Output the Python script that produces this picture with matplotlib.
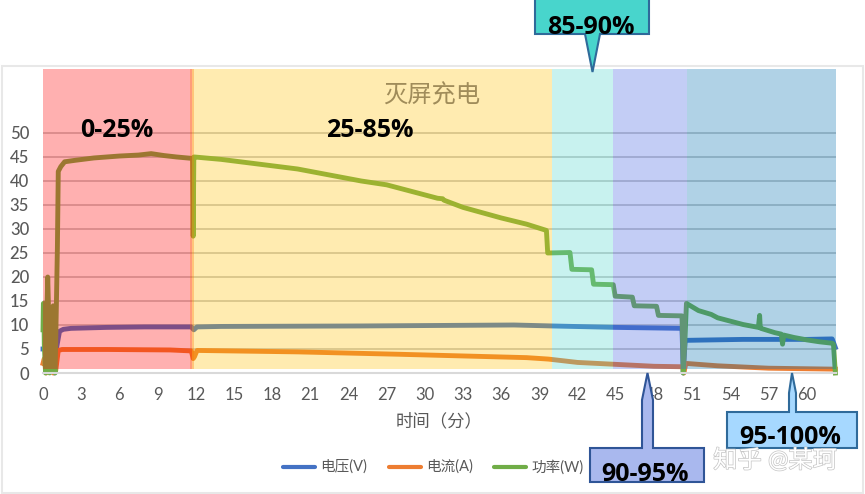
import matplotlib
matplotlib.use("Agg")
import matplotlib.pyplot as plt
from matplotlib.patches import Polygon, Rectangle
import matplotlib.patheffects as pe

plt.rcParams['font.family'] = ['Lato', 'Noto Sans CJK SC', 'DejaVu Sans']

time_power = [0, .03, .07, .1, .2, .27, .37, .45, .52, .6, .7, .8, .88, .95, 1.05, 1.13, 1.2, 1.4, 1.7, 2.5, 4, 6, 7.5, 8.5, 9.5, 10.5, 11.75,
              11.8, 11.85, 11.9, 14, 17, 20, 23, 25, 27, 29, 31, 31.4, 31.5, 33, 36, 38, 39.55, 39.65, 41.4, 41.55, 43.1, 43.25, 44.8, 44.95,
              46.3, 46.45, 48.2, 48.35, 50.2, 50.3, 50.4, 50.55, 51.5, 52.5, 53, 54, 55, 56.2, 56.3, 56.35, 56.4, 57.5, 58, 58.1, 58.2, 59, 60, 61, 62, 62.1, 62.25]
power = [9, 14.5, 14, 6, 0, 8, 20, 12, 0, 5, 10, 14, 2, 0, 14, 26, 42, 43, 44, 44.3, 44.8, 45.2, 45.4, 45.7, 45.3, 45, 44.7,
         28.5, 45, 45, 44.5, 43.5, 42.5, 41, 40, 39.2, 37.8, 36.4, 36.3, 36, 34.5, 32.3, 31, 29.7, 25, 25.1, 21.6, 21.5, 18.5, 18.4, 16,
         15.8, 14, 13.9, 12, 11.9, 0, 5, 14.5, 13, 12.2, 11.5, 10.8, 10.1, 9.5, 12, 9.4, 9.3, 8.4, 8.1, 6, 7.9, 7.4, 6.9, 6.5, 6.2, 6, 0]

time_voltage = [0, .2, .35, .5, .7, .9, 1.05, 1.3, 1.6, 2.2, 5, 8, 11.65, 11.85, 12.1, 14, 25, 37, 40, 45, 50.2, 50.3, 50.45, 55, 60, 62, 62.25]
voltage = [5, 5, 1, 5, 2, 0, 5, 8.7, 9.1, 9.3, 9.5, 9.6, 9.6, 9, 9.6, 9.7, 9.8, 10, 9.8, 9.5, 9.3, 0, 6.8, 7, 7, 7.1, 5.3]

time_current = [0, .1, .25, .4, .6, .8, 1.0, 1.2, 1.5, 5, 10, 11.65, 11.8, 11.9, 12.1, 20, 28, 38, 39.7, 42, 45, 48, 50.25, 50.35, 50.5, 53, 57, 62.25]
current = [2, 3, 0, 2.5, 1, 0, .5, 4.7, 4.9, 4.9, 4.8, 4.6, 3, 3.4, 4.7, 4.4, 3.9, 3.2, 2.9, 2.2, 1.8, 1.4, 1.3, 0, 2, 1.5, 1, .8]

band_edges = [0, 11.7, 40, 44.8, 50.6, 62.3]
band_colors = ['#FF0000', '#FFC000', '#50D8CC', '#4060E0', '#0070B0']
x_ticks = list(range(0, 61, 3))
y_ticks = list(range(0, 51, 5))
series_names = ['电压(V)', '电流(A)', '功率(W)']
series_colors = ['#4472C4', '#ED7D31', '#70AD47']

W, H = 865, 494
fig = plt.figure(figsize=(W / 100, H / 100), dpi=100, facecolor='white')
fig.add_artist(Rectangle((1.5 / W, 1 - 492.5 / H), 861.5 / W, 426.5 / H, transform=fig.transFigure,
                         fc='white', ec='#E8E8E8', lw=1.5, zorder=-5))

ax = fig.add_axes([43 / W, (H - 373) / H, 793 / W, 304 / H], zorder=2)
ax.patch.set_alpha(0)
ax.set_xlim(0, 62.3)
ax.set_ylim(0, 63.33)
ax.hlines(y_ticks[1:], 0, 62.3, color='#C4C4C4', lw=1.2, zorder=1)
for s in ['top', 'right', 'left']:
    ax.spines[s].set_visible(False)
ax.spines['bottom'].set_color('#D9D9D9')
ax.spines['bottom'].set_linewidth(1.5)

for t, v, c, n in zip([time_voltage, time_current, time_power], [voltage, current, power], series_colors, series_names):
    ax.plot(t, v, color=c, lw=3.5, solid_joinstyle='round', solid_capstyle='projecting', clip_on=False, zorder=2, label=n)

for a, b, c in zip(band_edges[:-1], band_edges[1:], band_colors):
    ax.add_patch(Rectangle((a, 0.8), b - a, 62.53, fc=c, ec='none', alpha=0.31, zorder=3))
ax.add_patch(Rectangle((11.55, 0.8), 0.3, 62.53, fc='#FF7000', ec='none', alpha=0.3, zorder=3))

ax.set_xticks(x_ticks)
ax.set_yticks(y_ticks)
ax.tick_params(length=0, labelsize=12, labelcolor='#595959')
ax.tick_params(axis='x', pad=10)
ax.tick_params(axis='y', pad=10)
for lab in ax.get_yticklabels():
    lab.set_fontweight('medium')
ax.set_xlabel('时间（分）', fontsize=12.5, color='#595959', labelpad=7)

# overlay in reference pixels: legend, notes and callouts
ov = fig.add_axes([0, 0, 1, 1], zorder=10)
ov.set_xlim(0, W)
ov.set_ylim(H, 0)
ov.axis('off')
ov.patch.set_alpha(0)

for (x0, tx), c, n in zip([(283, 320), (389, 426), (494, 531)], series_colors, series_names):
    ov.plot([x0, x0 + 32], [467, 467], color=c, lw=3, solid_capstyle='round')
    ov.text(tx, 467, n, fontsize=10.5, color='#595959', va='center', ha='left')

ov.text(117, 130, '0-25%', fontsize=18, fontweight='bold', color='black', ha='center', va='center', family=['Open Sans'])
ov.text(370, 130, '25-85%', fontsize=18, fontweight='bold', color='black', ha='center', va='center', family=['Open Sans'])
ov.text(432, 95, '灭屏充电', fontsize=17.5, color='#A08C5A', ha='center', va='center')

def callout(pts, fc, ec, txt, tx, ty):
    ov.add_patch(Polygon(pts, closed=True, fc=fc, ec=ec, lw=1.5, zorder=5, clip_on=False))
    ov.text(tx, ty, txt, fontsize=18, fontweight='bold', color='black', ha='center', va='center',
            zorder=6, family=['Open Sans'])

callout([(535, -2), (649, -2), (649, 34), (600, 34), (592.5, 72), (585, 34), (535, 34)],
        '#48D5CC', '#2F6A9A', '85-90%', 591, 27)
callout([(590, 448), (642, 448), (642, 400), (647.5, 373), (653, 400), (653, 448), (704, 448), (704, 482), (590, 482)],
        '#A9B8EE', '#2F5597', '90-95%', 645, 474)
callout([(727, 412), (789, 412), (789, 393), (792, 373), (796, 393), (796, 412), (857, 412), (857, 448), (727, 448)],
        '#A6D8FF', '#2F6A9A', '95-100%', 790, 437)

ov.text(775, 460, '知乎 @某珂', fontsize=17.5, color='white', ha='center', va='center', zorder=7,
        path_effects=[pe.withStroke(linewidth=1.0, foreground='#C4C4C4')])

fig.savefig('out.png', dpi=100)
